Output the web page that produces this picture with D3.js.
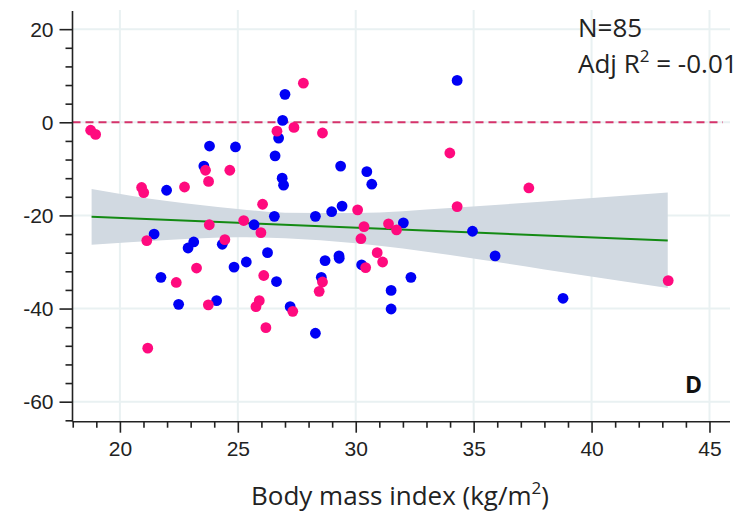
<!DOCTYPE html>
<html>
<head>
<meta charset="utf-8">
<script src="https://cdn.jsdelivr.net/npm/d3@7"></script>
<style>
  body { margin: 0; background: #fff; }
  svg { display: block; }
</style>
</head>
<body>
<div id="chart"></div>
<script>
// BMI vs change, two groups (pink / blue), with linear fit and its CI band

var pinkBmi = [18.76, 18.97, 23.63, 23.76, 24.66, 20.92, 21.01, 22.74, 27.78, 26.66,
   27.38, 28.59, 33.99, 26.05, 37.34, 21.14, 23.79, 24.45, 25.25, 23.25,
   22.39, 23.75, 21.18, 25.98, 30.08, 30.35, 30.22, 31.39, 31.73, 34.30,
   30.42, 30.91, 31.14, 26.10, 28.59, 28.45, 25.91, 25.77, 27.33, 26.19, 43.25];
var pinkChange = [-1.7, -2.6, -10.3, -12.7, -10.3, -14.0, -15.1, -13.9, 8.4, -1.9,
   -1.1, -2.3, -6.6, -17.6, -14.1, -25.4, -22.0, -25.2, -21.1, -31.3,
   -34.4, -39.2, -48.5, -23.7, -18.8, -22.4, -25.0, -21.8, -23.1, -18.1,
   -31.2, -28.0, -30.0, -32.9, -34.3, -36.3, -38.3, -39.6, -40.6, -44.1, -34.0];

var blueBmi = [23.8, 24.9, 23.56, 21.98, 34.30, 27.0, 26.9, 26.73, 26.58, 29.36,
   30.47, 30.68, 26.88, 26.94, 21.45, 23.13, 22.89, 24.34, 25.36, 24.84,
   21.74, 22.49, 24.10, 25.69, 26.55, 28.29, 28.98, 29.42, 32.02, 34.95,
   35.91, 26.26, 28.70, 29.29, 29.30, 30.25, 32.34, 31.50, 31.50, 26.64,
   28.54, 27.22, 28.29, 38.79];
var blueChange = [-5.1, -5.3, -9.4, -14.6, 9.0, 6.0, 0.4, -3.4, -7.2, -9.4,
   -10.6, -13.3, -12.0, -13.5, -24.0, -25.7, -27.0, -26.2, -30.0, -31.1,
   -33.3, -39.1, -38.3, -22.0, -20.2, -20.2, -19.2, -18.0, -21.6, -23.4,
   -28.7, -28.0, -29.7, -28.7, -29.2, -30.6, -33.3, -36.1, -40.1, -34.2,
   -33.3, -39.6, -45.3, -37.8];

// fit line and confidence band
var fitBmi = [18.8, 43.23];
var fitChange = [-20.3, -25.4];
var bandBmi = [18.8, 22, 25, 27, 30, 34, 38, 43.23];
var bandLow = [-26.3, -25.3, -24.7, -24.9, -26.0, -28.5, -31.6, -35.6];
var bandHigh = [-14.3, -16.9, -18.6, -19.4, -19.5, -18.4, -17.0, -15.1];

var xTicks = [20, 25, 30, 35, 40, 45];
var yTicks = [20, 0, -20, -40, -60];
var statLines = ["N=85", "Adj R"];

var width = 747, height = 512;
var plotLeft = 72.5, plotRight = 730, plotTop = 11, plotBottom = 421.7;

var svg = d3.select("#chart").append("svg")
   .attr("width", width)
   .attr("height", height);

var x = d3.scaleLinear().domain([17.99, 45.87]).range([plotLeft, plotRight]);
var y = d3.scaleLinear().domain([-64.3, 23.9]).range([plotBottom, plotTop]);

// grid
svg.append("g").selectAll("line")
   .data(xTicks).enter().append("line")
   .attr("x1", d => x(d)).attr("x2", d => x(d))
   .attr("y1", plotTop - 1).attr("y2", plotBottom)
   .attr("stroke", "#e9f1f2").attr("stroke-width", 2);
svg.append("g").selectAll("line")
   .data(yTicks).enter().append("line")
   .attr("x1", plotLeft).attr("x2", plotRight)
   .attr("y1", d => y(d)).attr("y2", d => y(d))
   .attr("stroke", "#e9f1f2").attr("stroke-width", 2);

// confidence band
var band = bandBmi.map((b, i) => ({x: b, lo: bandLow[i], hi: bandHigh[i]}));
svg.append("path")
   .datum(band)
   .attr("fill", "#d1d9e1")
   .attr("d", d3.area()
      .x(d => x(d.x))
      .y0(d => y(d.lo))
      .y1(d => y(d.hi))
      .curve(d3.curveMonotoneX));

// zero reference line
svg.append("line")
   .attr("x1", plotLeft).attr("x2", 723)
   .attr("y1", y(0)).attr("y2", y(0))
   .attr("stroke", "#d6336b").attr("stroke-width", 2)
   .attr("stroke-dasharray", "8,5");

// fit line
svg.append("path")
   .datum(fitBmi.map((b, i) => [b, fitChange[i]]))
   .attr("fill", "none")
   .attr("stroke", "#138a13").attr("stroke-width", 2)
   .attr("d", d3.line().x(d => x(d[0])).y(d => y(d[1])));

// points
function drawPoints(bmi, change, colour) {
   svg.append("g").selectAll("circle")
      .data(bmi.map((b, i) => [b, change[i]]))
      .enter().append("circle")
      .attr("cx", d => x(d[0]))
      .attr("cy", d => y(d[1]))
      .attr("r", 5.4)
      .attr("fill", colour);
}
drawPoints(blueBmi, blueChange, "#0000f5");
drawPoints(pinkBmi, pinkChange, "#ff0a7e");

// axes
var xAxis = d3.axisBottom(x).tickValues(d3.range(18, 46, 1)).tickSize(6).tickFormat("");
var gx = svg.append("g").attr("transform", "translate(0," + plotBottom + ")").call(xAxis);
gx.selectAll(".tick").filter(d => d % 5 == 0).select("line").attr("y2", 11);
gx.selectAll(".tick").filter(d => d % 5 == 0).append("text")
   .attr("y", 28).attr("dy", "0.32em")
   .attr("fill", "#222")
   .text(d => d);
gx.select(".domain").attr("d", "M" + plotLeft + ",0H" + plotRight);

var yAxis = d3.axisLeft(y).tickValues(d3.range(-64, 24, 4)).tickSize(7).tickFormat("");
var gy = svg.append("g").attr("transform", "translate(" + plotLeft + ",0)").call(yAxis);
gy.selectAll(".tick").filter(d => d % 20 == 0).select("line").attr("x2", -13);
gy.selectAll(".tick").filter(d => d % 20 == 0).append("text")
   .attr("x", -19).attr("dy", "0.34em")
   .attr("fill", "#222")
   .text(d => d);
gy.select(".domain").attr("d", "M0," + plotTop + "V" + plotBottom);

svg.selectAll(".domain, .tick line").attr("stroke", "#222").attr("stroke-width", 1.6);
svg.selectAll(".tick text")
   .attr("font-family", "Liberation Sans, Arial, sans-serif")
   .attr("font-size", 21);

// axis title
var title = svg.append("text")
   .attr("x", 400).attr("y", 505)
   .attr("text-anchor", "middle")
   .attr("font-family", "Open Sans, sans-serif")
   .attr("font-size", 26)
   .attr("fill", "#222")
   .text("Body mass index (kg/m");
title.append("tspan").attr("dy", -11).attr("font-size", 17).text("2");
title.append("tspan").attr("dy", 11).text(")");

// stats box
svg.append("text")
   .attr("x", 578).attr("y", 37)
   .attr("font-family", "Open Sans, sans-serif")
   .attr("font-size", 26).attr("fill", "#222")
   .text(statLines[0]);
var r2 = svg.append("text")
   .attr("x", 578).attr("y", 73)
   .attr("font-family", "Open Sans, sans-serif")
   .attr("font-size", 26).attr("fill", "#222")
   .text(statLines[1]);
r2.append("tspan").attr("dy", -11).attr("font-size", 17).text("2");
r2.append("tspan").attr("dy", 11).text(" = -0.01");

// panel letter
svg.append("text")
   .attr("x", 685).attr("y", 392.5)
   .attr("font-family", "Open Sans, sans-serif")
   .attr("font-weight", "bold")
   .attr("font-size", 23).attr("fill", "#111")
   .text("D");
</script>
</body>
</html>
